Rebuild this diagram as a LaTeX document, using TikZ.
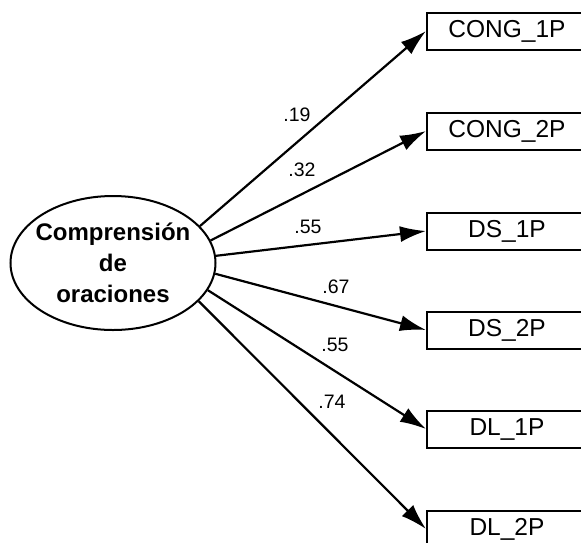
\documentclass[tikz,border=0pt]{standalone}
\usepackage{fontspec}
\setmainfont{Liberation Sans}
\usetikzlibrary{arrows.meta,shapes.geometric}
\begin{document}
\begin{tikzpicture}[x=1pt,y=-1pt,
  latent/.style={draw,line width=2pt,ellipse,minimum width=205pt,minimum height=134pt,inner sep=0pt},
  latenttext/.style={align=center,inner sep=0pt,font=\fontsize{24}{31}\selectfont\bfseries},
  obs/.style={draw,line width=2pt,rectangle,anchor=west,minimum width=160pt,minimum height=37pt,inner sep=0pt,
    font=\fontsize{24.5}{26}\selectfont},
  path/.style={line width=2.2pt,-{Latex[length=26pt,width=16pt]}},
  coef/.style={font=\fontsize{19.5}{22}\selectfont,inner sep=0pt}]
\useasboundingbox (0,0) rectangle (581,542);
\clip (0,0) rectangle (581,542);
\node[latent] (F) at (113,263) {};
\node[latenttext] (Ft) at (F.center) {Comprensión\\de\\oraciones};
\node[obs] (b1) at (426,31) {CONG\_1P};
\node[obs] (b2) at (426,131) {CONG\_2P};
\node[obs] (b3) at (426,231) {DS\_1P};
\node[obs] (b4) at (426,330) {DS\_2P};
\node[obs] (b5) at (426,429) {DL\_1P};
\node[obs] (b6) at (426,529) {DL\_2P};
\draw[path] (F.23) -- (b1.west);
\draw[path] (F.13) -- (b2.west);
\draw[path] (F.4) -- (b3.west);
\draw[path] (F.-6) -- (b4.west);
\draw[path] (F.-16) -- (b5.west);
\draw[path] (F.-24) -- (b6.west);
\node[coef] (c1) at (297,115) {.19};
\node[coef] (c2) at (302,170) {.32};
\node[coef] (c3) at (308,227) {.55};
\node[coef] (c4) at (336,287) {.67};
\node[coef] (c5) at (335,345) {.55};
\node[coef] (c6) at (332,402) {.74};
\end{tikzpicture}
\end{document}
